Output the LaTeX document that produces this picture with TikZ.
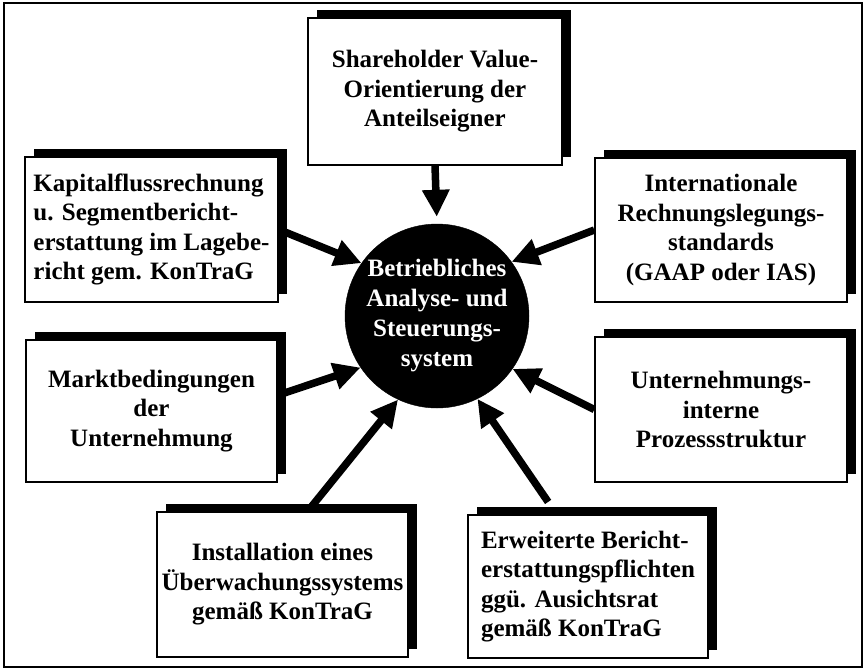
\documentclass[tikz,border=0pt]{standalone}
\usepackage{fontspec}
\setmainfont{Liberation Serif}
\usetikzlibrary{arrows.meta,shadows,calc}
\pgfdeclarelayer{bg}
\pgfsetlayers{bg,main}
\begin{document}
\begin{tikzpicture}[x=1pt,y=-1pt,
  box/.style={draw=black,line width=1.4pt,fill=white,rectangle,inner sep=0pt,
     general shadow={fill=black,shadow xshift=9pt,shadow yshift=8pt},
     font=\bfseries\fontsize{25}{29.5}\selectfont, align=center},
  hub/.style={circle,fill=black,draw=black,minimum size=184pt,inner sep=0pt,
     text=white,font=\bfseries\fontsize{25}{30}\selectfont,align=center},
  conn/.style={line width=7.5pt,-{Triangle[length=27pt,width=26pt]}},
]
\useasboundingbox (0,0) rectangle (867,670);
\draw[line width=1.5pt] (4,3) rectangle (862,667);

\node[box, minimum width=254pt, minimum height=147pt] (sh) at (435,91.5)
  {Shareholder Value-\\Orientierung der\\Anteilseigner};
\node[box, align=left, minimum width=253pt, minimum height=145pt] (kap) at (151.5,229.5)
  {Kapitalflussrechnung\\u. Segmentbericht-\\erstattung im Lagebe-\\richt gem. KonTraG};
\node[box, minimum width=252pt, minimum height=144pt] (intl) at (721,230)
  {Internationale\\Rechnungslegungs-\\standards\\(GAAP oder IAS)};
\node[box, minimum width=251pt, minimum height=142pt] (markt) at (151.5,411)
  {Marktbedingungen\\der\\Unternehmung};
\node[box, minimum width=252pt, minimum height=145pt] (unt) at (721,409.5)
  {Unternehmungs-\\interne\\Prozessstruktur};
\node[box, minimum width=251pt, minimum height=145pt] (inst) at (282.5,584.5)
  {Installation eines\\Überwachungssystems\\gemäß KonTraG};
\node[box, align=left, minimum width=240pt, minimum height=143pt] (erw) at (588,586.5)
  {Erweiterte Bericht-\\erstattungspflichten\\ggü. Ausichtsrat\\gemäß KonTraG};

\node[hub] (circ) at (437,316) {Betriebliches\\Analyse- und\\Steuerungs-\\system};

\begin{pgfonlayer}{bg}
\draw[conn, shorten >=7pt] (sh.south) -- (circ.north);
\draw[conn] (kap.east) -- (circ.145);
\draw[conn] (intl.west) -- (circ.36);
\draw[conn] ($(markt.north east)!0.39!(markt.south east)$) -- (circ.214);
\draw[conn] (unt.west) -- (circ.325);
\draw[conn] ($(inst.north west)!0.6!(inst.north east)$) -- (circ.245);
\draw[conn, shorten <=15pt] ($(erw.north west)!0.37!(erw.north east)$) -- (circ.296);
\end{pgfonlayer}
\end{tikzpicture}
\end{document}
